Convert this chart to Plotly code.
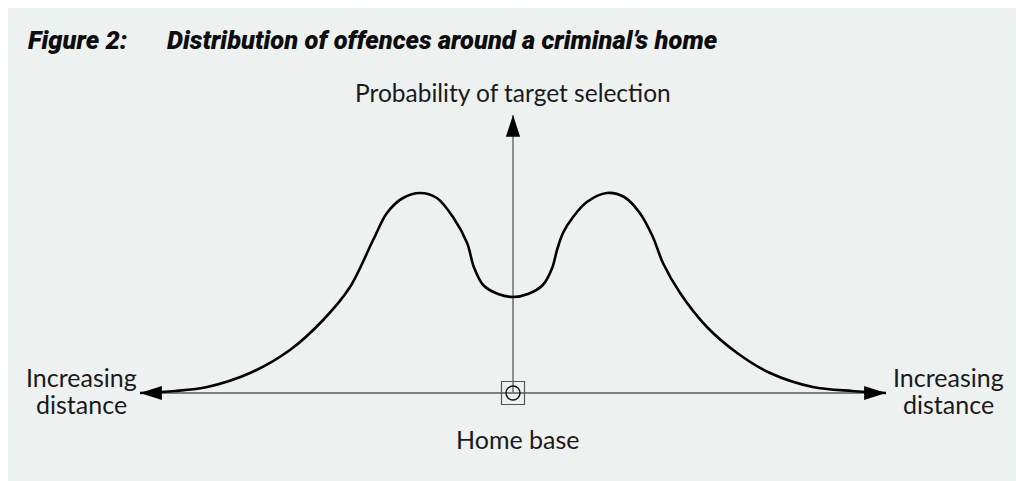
import plotly.graph_objects as go

# ---------------- data ----------------
# distance from home base (arbitrary units, negative = left side)
curve_distance = [-10.00, -9.06, -8.20, -7.05, -5.98, -5.09, -4.37, -3.75, -3.38, -2.95,
                  -2.49, -2.04, -1.61, -1.23, -1.05, -0.80, -0.40, 0.00,
                  0.40, 0.80, 1.05, 1.18, 1.34, 1.61, 1.98, 2.52, 2.98, 3.40,
                  3.75, 4.02, 4.48, 5.20, 6.01, 6.89, 8.04, 9.09, 10.00]
# probability of target selection (arbitrary units, peak ~100)
curve_probability = [0.0, 1.0, 3.0, 10.0, 21.5, 36.5, 53.0, 76.5, 90.0, 97.5,
                     100.0, 97.5, 88.0, 75.0, 63.0, 54.0, 49.5, 48.0,
                     49.5, 54.0, 62.5, 71.5, 80.0, 88.0, 95.5, 100.0, 98.0, 90.0,
                     78.0, 65.0, 50.0, 33.0, 20.0, 10.0, 3.0, 1.0, 0.0]

distance_axis = [-10.0, 10.0]        # horizontal axis extent
probability_axis = [0.0, 139.0]      # vertical axis extent
home_base = [0.0, 0.0]

title_label = "Figure 2:"
title_text = "Distribution of offences around a criminal\u2019s home"
y_label = "Probability of target selection"
x_label_lines = ["Increasing", "distance"]
origin_label = "Home base"

# ---------------- layout helpers ----------------
PAGE_OFFSET = 8                      # browser body margin
W, H = 1024 - PAGE_OFFSET, 481 - PAGE_OFFSET
ORIGIN_PX = (513 - PAGE_OFFSET, 393 - PAGE_OFFSET)
PX_PER_X = 37.3
PX_PER_Y = 2.0

x_range = [(0 - ORIGIN_PX[0]) / PX_PER_X, (W - ORIGIN_PX[0]) / PX_PER_X]
y_range = [(ORIGIN_PX[1] - H) / PX_PER_Y, (ORIGIN_PX[1] - 0) / PX_PER_Y]


def px_x(p):
    return (p - PAGE_OFFSET) / W


def px_y(p):
    return 1 - (p - PAGE_OFFSET) / H


BG = "#edf1f0"
TXT = "#1a1a1a"
BODY_FONT = "Lato, 'Noto Sans', 'Open Sans', sans-serif"
TITLE_FONT = "Roboto, 'Liberation Sans', sans-serif"

fig = go.Figure()

# horizontal axis
fig.add_trace(go.Scatter(x=distance_axis, y=[0, 0], mode="lines",
                         line=dict(color="#111111", width=1.2), hoverinfo="skip"))
# vertical axis
fig.add_trace(go.Scatter(x=[home_base[0], home_base[0]], y=probability_axis, mode="lines",
                         line=dict(color="#777777", width=1.6), hoverinfo="skip"))
# curve
fig.add_trace(go.Scatter(x=curve_distance, y=curve_probability, mode="lines",
                         line=dict(color="#000000", width=2.6, shape="spline", smoothing=0.9),
                         hoverinfo="skip"))
# arrow heads: curve ends and vertical axis top
fig.add_trace(go.Scatter(
    x=[curve_distance[0], curve_distance[-1], home_base[0]],
    y=[curve_probability[0], curve_probability[-1], probability_axis[1]],
    mode="markers",
    marker=dict(symbol="arrow", size=23, color="#000000", angle=[-90, 90, 0],
                line=dict(width=0)),
    hoverinfo="skip"))
# home base symbol
fig.add_trace(go.Scatter(x=[home_base[0]], y=[home_base[1]], mode="markers",
                         marker=dict(symbol="square-open", size=23, color="#555555",
                                     line=dict(width=1.2, color="#555555")),
                         hoverinfo="skip"))
fig.add_trace(go.Scatter(x=[home_base[0]], y=[home_base[1]], mode="markers",
                         marker=dict(symbol="circle-open", size=14, color="#111111",
                                     line=dict(width=1.4, color="#111111")),
                         hoverinfo="skip"))

title_font = dict(family=TITLE_FONT, size=25.5, color="#0d0d0d", weight=900, style="italic")
body_font = dict(family=BODY_FONT, size=25, color=TXT)
annotations = [
    dict(x=px_x(26), y=px_y(40), text=title_label, xanchor="left", yanchor="middle",
         font=title_font),
    dict(x=px_x(165), y=px_y(40), text=title_text, xanchor="left", yanchor="middle",
         font=title_font),
    dict(x=px_x(513), y=px_y(92), text=y_label, xanchor="center", yanchor="middle",
         font=dict(family=BODY_FONT, size=24.5, color=TXT)),
    dict(x=px_x(518), y=px_y(439), text=origin_label, xanchor="center", yanchor="middle",
         font=body_font),
]
for cx in (81, 948):
    annotations.append(dict(x=px_x(cx), y=px_y(377), text=x_label_lines[0], xanchor="center",
                            yanchor="middle", font=body_font))
    annotations.append(dict(x=px_x(cx), y=px_y(404), text=x_label_lines[1], xanchor="center",
                            yanchor="middle", font=body_font))
for a in annotations:
    a.update(xref="paper", yref="paper", showarrow=False)

fig.update_layout(
    width=W, height=H,
    margin=dict(l=0, r=0, t=0, b=0),
    paper_bgcolor=BG,
    plot_bgcolor="rgba(0,0,0,0)",
    showlegend=False,
    xaxis=dict(range=x_range, visible=False, fixedrange=True),
    yaxis=dict(range=y_range, visible=False, fixedrange=True),
    annotations=annotations,
)

fig.write_html("out.html", config={"displayModeBar": False})
